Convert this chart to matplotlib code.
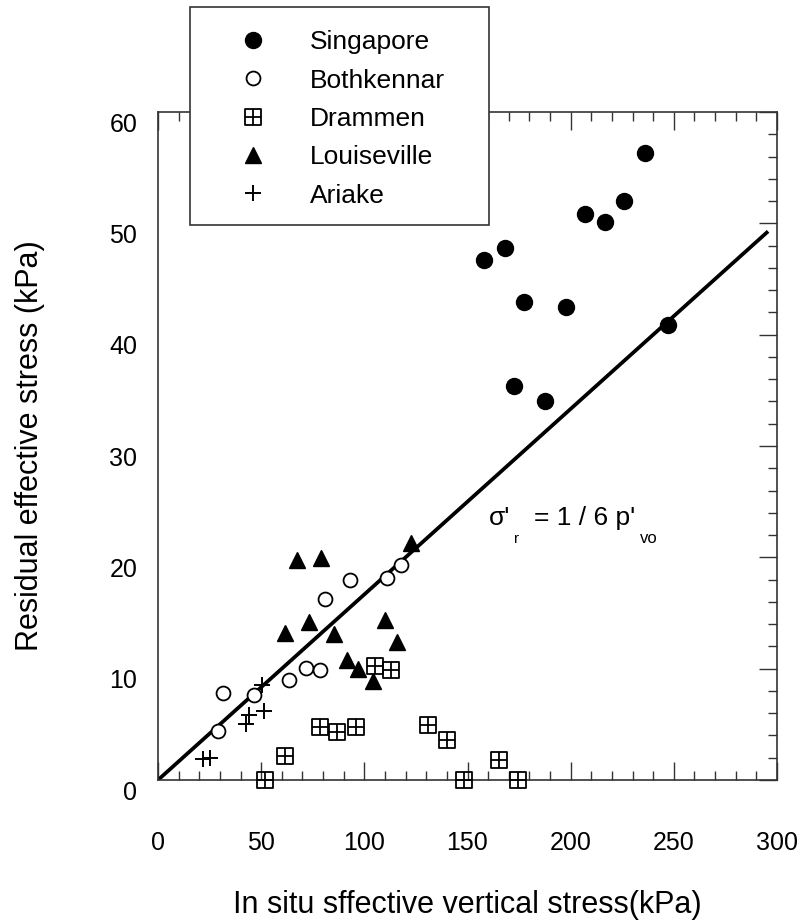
import matplotlib
matplotlib.use('Agg')
import matplotlib.pyplot as plt
import matplotlib.transforms as mtransforms
from matplotlib.path import Path
from matplotlib.patches import Rectangle
import numpy as np

plt.rcParams['font.family'] = ['Liberation Sans', 'DejaVu Sans']

# data (kPa)
singapore_x = [235.9, 225.9, 207.1, 216.5, 168.2, 158.1, 177.6, 197.9, 247.3, 172.7, 187.7]
singapore_y = [56.3, 52.0, 50.8, 50.1, 47.8, 46.7, 42.9, 42.5, 40.9, 35.4, 34.0]

bothkennar_x = [31.7, 29.3, 46.3, 63.3, 71.5, 78.4, 80.7, 92.9, 111.2, 117.9]
bothkennar_y = [7.8, 4.4, 7.6, 9.0, 10.1, 9.9, 16.3, 18.0, 18.1, 19.3]

drammen_x = [52.0, 61.7, 78.4, 86.9, 96.1, 105.0, 113.1, 130.9, 140.3, 148.1, 165.4, 174.7]
drammen_y = [0.0, 2.2, 4.8, 4.3, 4.8, 10.2, 9.9, 4.9, 3.6, 0.0, 1.8, 0.0]

louiseville_x = [67.4, 79.1, 61.7, 73.1, 85.2, 91.7, 96.9, 104.4, 110.0, 116.0, 122.5]
louiseville_y = [19.8, 19.9, 13.2, 14.2, 13.1, 10.8, 10.0, 8.9, 14.4, 12.4, 21.3]

ariake_x = [22.0, 25.3, 42.8, 44.2, 51.2, 50.4]
ariake_y = [1.9, 2.0, 5.0, 5.8, 6.2, 8.5]

# sigma'_r = p'_vo / 6
line_x = np.array([0, 295])
line_y = line_x / 6.0

# square with a cross inside, for Drammen
box_cross = Path([(-1, -1), (1, -1), (1, 1), (-1, 1), (-1, -1),
                  (0, -1), (0, 1), (-1, 0), (1, 0)],
                 [Path.MOVETO, Path.LINETO, Path.LINETO, Path.LINETO, Path.CLOSEPOLY,
                  Path.MOVETO, Path.LINETO, Path.MOVETO, Path.LINETO])

fig = plt.figure(figsize=(8.01, 9.23), dpi=100)
ax = fig.add_axes([158/801, 1-780/923, 619/801, 668/923])

ax.plot(line_x, line_y, color='black', lw=2.7, zorder=2)

ax.plot(singapore_x, singapore_y, 'o', ms=11.5, color='black', ls='none',
        label='Singapore', clip_on=False, zorder=3)
ax.plot(bothkennar_x, bothkennar_y, 'o', ms=10, mfc='white', mec='black', mew=1.3,
        ls='none', label='Bothkennar', clip_on=False, zorder=3)
ax.plot(drammen_x, drammen_y, marker=box_cross, ms=12, mfc='none', mec='black', mew=1.3,
        ls='none', label='Drammen', clip_on=False, zorder=3)
ax.plot(louiseville_x, louiseville_y, '^', ms=12, color='black', ls='none',
        label='Louiseville', clip_on=False, zorder=3)
ax.plot(ariake_x, ariake_y, '+', ms=11, mew=1.4, color='black', ls='none',
        label='Ariake', clip_on=False, zorder=3)

# equation label, pieced together so the primes and subscripts look like the original
ax.text(160.4, 22.9, "σ'", fontsize=19, ha='left', va='baseline')
ax.text(172.3, 21.3, "r", fontsize=11, ha='left', va='baseline')
ax.text(182.3, 22.9, "= 1 / 6 p'", fontsize=19, ha='left', va='baseline')
ax.text(233.8, 21.3, "vo", fontsize=12, ha='left', va='baseline')

ax.set_xlim(0, 300)
ax.set_ylim(0, 60)
ax.set_xticks(np.arange(0, 301, 50))
ax.set_xticks(np.arange(0, 301, 10), minor=True)
ax.set_yticks(np.arange(0, 61, 10))
ax.set_yticks(np.arange(0, 61, 2), minor=True)

spine_col = '#333333'
for s in ax.spines.values():
    s.set_color(spine_col)
    s.set_linewidth(1.2)

ax.tick_params(which='both', direction='in', top=True, right=True, left=False,
               color=spine_col, width=1.0)
ax.tick_params(which='major', length=13)
ax.tick_params(which='minor', length=6.5)
ax.tick_params(axis='x', which='major', labelsize=18, pad=37)
ax.tick_params(axis='y', which='major', labelsize=18, pad=15)

# y tick labels sit a little below their ticks in the original
offset = mtransforms.ScaledTranslation(0, -0.10, fig.dpi_scale_trans)
for lab in ax.get_yticklabels():
    lab.set_transform(lab.get_transform() + offset)

ax.set_xlabel('In situ sffective vertical stress(kPa)', fontsize=22)
ax.set_ylabel('Residual effective stress (kPa)', fontsize=22)
ax.xaxis.set_label_coords(0.5, (780-905)/668)
ax.xaxis.label.set_va('center')
ax.yaxis.set_label_coords((30-158)/619, 0.5)
ax.yaxis.label.set_va('center')

# legend box sticks out above the axes, covering part of the top spine
box = Rectangle((190/801, 1-225/923), 299/801, 218/923, transform=fig.transFigure,
                facecolor='white', edgecolor=spine_col, lw=1.2, clip_on=False, zorder=4)
ax.add_patch(box)

leg = ax.legend(loc='upper left', bbox_to_anchor=(213.6/801, 1-17/923),
                bbox_transform=fig.transFigure, frameon=False, fontsize=19,
                borderpad=0, handlelength=2.0, handletextpad=1.16,
                labelspacing=0.545, numpoints=1)
leg.set_zorder(5)

fig.savefig('out.png', dpi=100)
